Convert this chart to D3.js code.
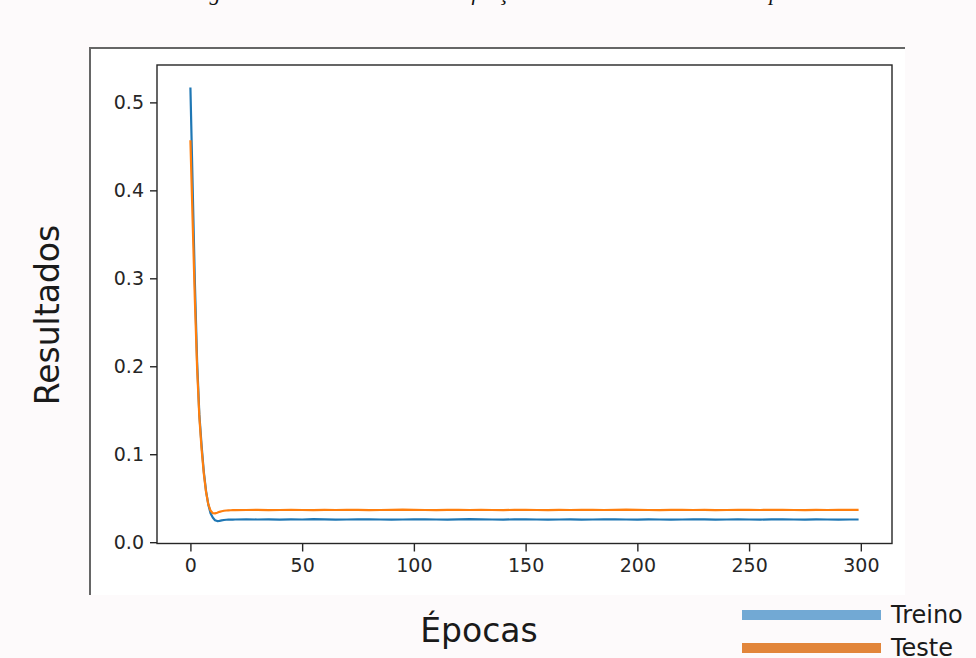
<!DOCTYPE html>
<html>
<head>
<meta charset="utf-8">
<script src="https://cdn.jsdelivr.net/npm/d3@7"></script>
<style>
  html, body { margin: 0; padding: 0; background: #fdfafb; }
  #chart { width: 976px; height: 658px; }
  text { font-family: "DejaVu Sans", sans-serif; }
</style>
</head>
<body>
<div id="chart"></div>
<script>
const width = 976;
const height = 658;

// epochs (every epoch at the start, then every 5)
const epochs = [
    0, 1, 2, 3, 4, 5, 6, 7, 8, 9, 10, 11, 12, 13, 14, 15, 16, 17, 18, 19, 20,
    25, 30, 35, 40, 45, 50, 55, 60, 65, 70, 75, 80, 85, 90, 95, 100,
    105, 110, 115, 120, 125, 130, 135, 140, 145, 150, 155, 160, 165, 170, 175, 180,
    185, 190, 195, 200, 205, 210, 215, 220, 225, 230, 235, 240, 245, 250, 255, 260,
    265, 270, 275, 280, 285, 290, 295, 299
];

const treino = [
    0.517, 0.405, 0.295, 0.205, 0.145, 0.110, 0.080, 0.058, 0.043, 0.033, 0.028,
    0.0250, 0.0240, 0.0243, 0.0248, 0.0252, 0.0255, 0.0256, 0.0257, 0.0257, 0.0258,
    0.0259, 0.0258, 0.0260, 0.0257, 0.0259, 0.0258, 0.0261, 0.0259,
    0.0257, 0.0258, 0.0260, 0.0259, 0.0258, 0.0256, 0.0258, 0.0259,
    0.0260, 0.0258, 0.0257, 0.0259, 0.0261, 0.0259, 0.0258, 0.0257,
    0.0259, 0.0260, 0.0258, 0.0256, 0.0258, 0.0259, 0.0257, 0.0258,
    0.0260, 0.0259, 0.0258, 0.0257, 0.0259, 0.0258, 0.0256, 0.0258,
    0.0260, 0.0259, 0.0257, 0.0258, 0.0259, 0.0258, 0.0257, 0.0259,
    0.0260, 0.0258, 0.0257, 0.0259, 0.0258, 0.0257, 0.0258, 0.0258
];

const teste = [
    0.457, 0.365, 0.275, 0.198, 0.142, 0.106, 0.078, 0.057, 0.043, 0.036, 0.033,
    0.0328, 0.0335, 0.0345, 0.0352, 0.0357, 0.0360, 0.0362, 0.0363, 0.0364, 0.0365,
    0.0366, 0.0367, 0.0365, 0.0366, 0.0368, 0.0366, 0.0365, 0.0367,
    0.0366, 0.0368, 0.0367, 0.0365, 0.0366, 0.0367, 0.0369, 0.0367,
    0.0366, 0.0365, 0.0367, 0.0368, 0.0366, 0.0367, 0.0366, 0.0365,
    0.0367, 0.0368, 0.0366, 0.0365, 0.0367, 0.0366, 0.0368, 0.0367,
    0.0366, 0.0367, 0.0369, 0.0367, 0.0366, 0.0365, 0.0367, 0.0368,
    0.0366, 0.0367, 0.0365, 0.0366, 0.0368, 0.0367, 0.0366, 0.0367,
    0.0368, 0.0366, 0.0365, 0.0367, 0.0366, 0.0368, 0.0367, 0.0367
];

const xTicks = [0, 50, 100, 150, 200, 250, 300];
const yTicks = [0.0, 0.1, 0.2, 0.3, 0.4, 0.5];
const seriesNames = ["Treino", "Teste"];
const colors = ["#1f77b4", "#ff7f0e"];
const legendColors = ["#72a9d4", "#e2853a"];

const svg = d3.select("#chart")
    .append("svg")
    .attr("width", width)
    .attr("height", height);

// cropped caption from the page above (only descenders show)
const caption = svg.append("text")
    .attr("y", 0)
    .style("font-family", "'Liberation Serif', serif")
    .style("font-style", "italic")
    .style("font-size", "22px")
    .attr("fill", "#111");
caption.append("tspan").attr("x", 190).text("Figura 4 – Resultados");
caption.append("tspan").attr("x", 444).text("da função");
caption.append("tspan").attr("x", 743).text("de perda");

// white figure area with its frame on the left and top
svg.append("rect")
    .attr("x", 90).attr("y", 48)
    .attr("width", 815).attr("height", 547)
    .attr("fill", "#fff");
svg.append("path")
    .attr("d", "M90,595V48H905")
    .attr("fill", "none")
    .attr("stroke", "#666")
    .attr("stroke-width", 2);

const plot = { left: 157, right: 892, top: 65, bottom: 543.5 };

const x = d3.scaleLinear()
    .domain([-14.95, 313.95])
    .range([plot.left, plot.right]);

const y = d3.scaleLinear()
    .domain([-0.0015, 0.5425])
    .range([plot.bottom, plot.top]);

const xAxis = svg.append("g")
    .attr("transform", `translate(0,${plot.bottom})`)
    .call(d3.axisBottom(x).tickValues(xTicks).tickSize(8).tickPadding(7).tickFormat(d3.format("d")));

const yAxis = svg.append("g")
    .attr("transform", `translate(${plot.left},0)`)
    .call(d3.axisLeft(y).tickValues(yTicks).tickSize(7).tickPadding(6).tickFormat(d3.format(".1f")));

[xAxis, yAxis].forEach(a => {
    a.select(".domain").remove();
    a.selectAll("line").attr("stroke", "#262626").attr("stroke-width", 1.4);
    a.selectAll("text").attr("fill", "#262626").style("font-size", "19px");
});

// lines
const line = vals => d3.line()
    .x((d, i) => x(epochs[i]))
    .y(d => y(d))(vals);

[treino, teste].forEach((vals, i) => {
    svg.append("path")
        .attr("d", line(vals))
        .attr("fill", "none")
        .attr("stroke", colors[i])
        .attr("stroke-width", 2.2)
        .attr("stroke-linejoin", "round");
});

svg.append("rect")
    .attr("x", plot.left).attr("y", plot.top)
    .attr("width", plot.right - plot.left)
    .attr("height", plot.bottom - plot.top)
    .attr("fill", "none")
    .attr("stroke", "#262626")
    .attr("stroke-width", 1.4);

// axis labels
svg.append("text")
    .attr("transform", "translate(59,315) rotate(-90)")
    .attr("text-anchor", "middle")
    .attr("fill", "#1a1a1a")
    .style("font-size", "33px")
    .text("Resultados");

svg.append("text")
    .attr("x", 479).attr("y", 642)
    .attr("text-anchor", "middle")
    .attr("fill", "#1a1a1a")
    .style("font-size", "33px")
    .text("Épocas");

// legend
const legend = svg.append("g")
    .selectAll("g")
    .data(seriesNames)
    .join("g")
    .attr("transform", (d, i) => `translate(742,${615 + i * 33})`);

legend.append("line")
    .attr("x1", 0).attr("x2", 139)
    .attr("stroke", (d, i) => legendColors[i])
    .attr("stroke-width", 10);

legend.append("text")
    .attr("x", 149).attr("y", 8)
    .attr("fill", "#1a1a1a")
    .style("font-size", "24px")
    .text(d => d);
</script>
</body>
</html>
